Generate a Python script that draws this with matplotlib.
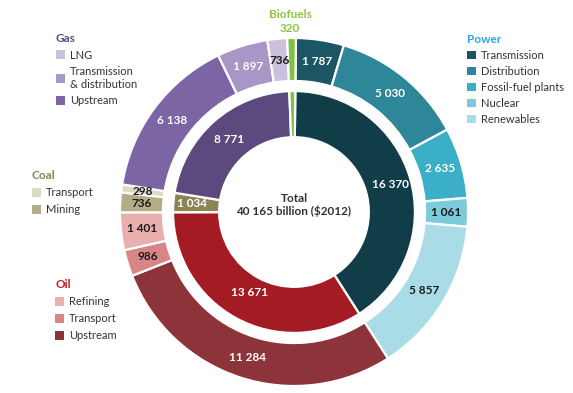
import matplotlib
matplotlib.use("Agg")
import matplotlib.pyplot as plt
from matplotlib.patches import Patch
import numpy as np

plt.rcParams['font.family'] = ['Lato', 'DejaVu Sans']

# ---------------- data ----------------
sectors = ["Power", "Oil", "Coal", "Gas", "Biofuels"]
sector_values = [16370, 13671, 1034, 8771, 320]

power_labels = ["Transmission", "Distribution", "Fossil-fuel plants", "Nuclear", "Renewables"]
power_values = [1787, 5030, 2635, 1061, 5857]
oil_labels = ["Upstream", "Transport", "Refining"]
oil_values = [11284, 986, 1401]
coal_labels = ["Mining", "Transport"]
coal_values = [736, 298]
gas_labels = ["Upstream", "Transmission\n& distribution", "LNG"]
gas_values = [6138, 1897, 736]
biofuels_values = [320]

total_text = "Total\n40 165 billion ($2012)"

# ---------------- styles ----------------
sector_colors = ["#113d48", "#a41b24", "#8b8455", "#5c4a7e", "#7dc242"]
power_colors = ["#1c5563", "#2e8799", "#3bafc8", "#7ccadb", "#a9dce6"]
oil_colors = ["#8d343a", "#d88585", "#e9aeae"]
coal_colors = ["#b2ad87", "#dcd9c6"]
gas_colors = ["#7b65a5", "#a796c6", "#cbc1de"]
bio_colors = ["#7dc242"]

power_txt = ["w", "w", "w", "k", "k"]
oil_txt = ["w", "k", "k"]
coal_txt = ["k", "k"]
gas_txt = ["w", "w", "k"]

def fmt(v):
    return f"{v:,}".replace(",", " ")

fig = plt.figure(figsize=(5.73, 3.93), dpi=100)
W, H = 573, 393
cx, cy, R = 294, 212, 174
ax = fig.add_axes([(cx - R) / W, (H - cy - R) / H, 2 * R / W, 2 * R / H])

start = 90 - biofuels_values[0] / sum(sector_values) * 360 / 2 + 0.8

outer_vals = power_values + oil_values + coal_values + gas_values + biofuels_values
outer_cols = power_colors + oil_colors + coal_colors + gas_colors + bio_colors
outer_txt = power_txt + oil_txt + coal_txt + gas_txt + [None]

outer_r, outer_w = 1.0, 0.247
inner_r, inner_w = 0.695, 0.265

wo, _ = ax.pie(outer_vals, radius=outer_r, colors=outer_cols, startangle=start,
               counterclock=False,
               wedgeprops=dict(width=outer_w, edgecolor="white", linewidth=1.6))
wi, _ = ax.pie(sector_values, radius=inner_r, colors=sector_colors, startangle=start,
               counterclock=False,
               wedgeprops=dict(width=inner_w, edgecolor="white", linewidth=1.6))
ax.set_xlim(-1, 1)
ax.set_ylim(-1, 1)
ax.set_aspect("equal")
ax.axis("off")

dark = "#1a1a1a"
for w, v, tc in zip(wo, outer_vals, outer_txt):
    if tc is None:
        continue
    th = np.deg2rad((w.theta1 + w.theta2) / 2)
    r = outer_r - outer_w / 2
    ax.text(r * np.cos(th), r * np.sin(th), fmt(v), ha="center", va="center",
            fontsize=8.5, fontweight="bold", zorder=5,
            color="white" if tc == "w" else dark)

inner_label_r = [0.575, 0.53, 0.59, 0.56]
for w, v, r in zip(wi[:4], sector_values[:4], inner_label_r):
    th = np.deg2rad((w.theta1 + w.theta2) / 2)
    ax.text(r * np.cos(th), r * np.sin(th), fmt(v), ha="center", va="center",
            fontsize=8.5, fontweight="bold", color="white", zorder=5)

ax.text(0, 0.04, total_text, ha="center", va="center", fontsize=8.5,
        fontweight="bold", color="#333333", linespacing=1.15, zorder=5)

# Biofuels label
fig.text(290 / W, 1 - 15 / H, "Biofuels", ha="center", va="center",
         fontsize=8.5, fontweight="bold", color="#8cc63f")
fig.text(290 / W, 1 - 28 / H, fmt(biofuels_values[0]), ha="center", va="center",
         fontsize=8.5, fontweight="bold", color="#8cc63f")

def group_legend(title, labels, colors, tcolor, x, y, spacing=0.45):
    handles = [Patch(facecolor=c, edgecolor="none") for c in colors]
    leg = fig.legend(handles=handles, labels=labels, title=title,
                     loc="upper left", bbox_to_anchor=(x / W, 1 - y / H),
                     frameon=False, fontsize=8, title_fontsize=8.5,
                     handlelength=0.8, handleheight=0.8, handletextpad=0.45,
                     labelspacing=spacing, borderpad=0, borderaxespad=0,
                     alignment="left")
    leg.get_title().set_color(tcolor)
    leg.get_title().set_fontweight("bold")
    for t in leg.get_texts():
        t.set_color("#333333")
    return leg

group_legend("Gas", gas_labels[::-1], gas_colors[::-1], "#5c4a7e", 56, 33, 0.5)
group_legend("Power", power_labels, power_colors, "#29a9dc", 467, 34)
group_legend("Coal", coal_labels[::-1], coal_colors[::-1], "#8b8455", 32, 170, 0.55)
group_legend("Oil", oil_labels[::-1], oil_colors[::-1], "#c4162a", 55, 279, 0.55)

fig.savefig("out.png", dpi=100)
